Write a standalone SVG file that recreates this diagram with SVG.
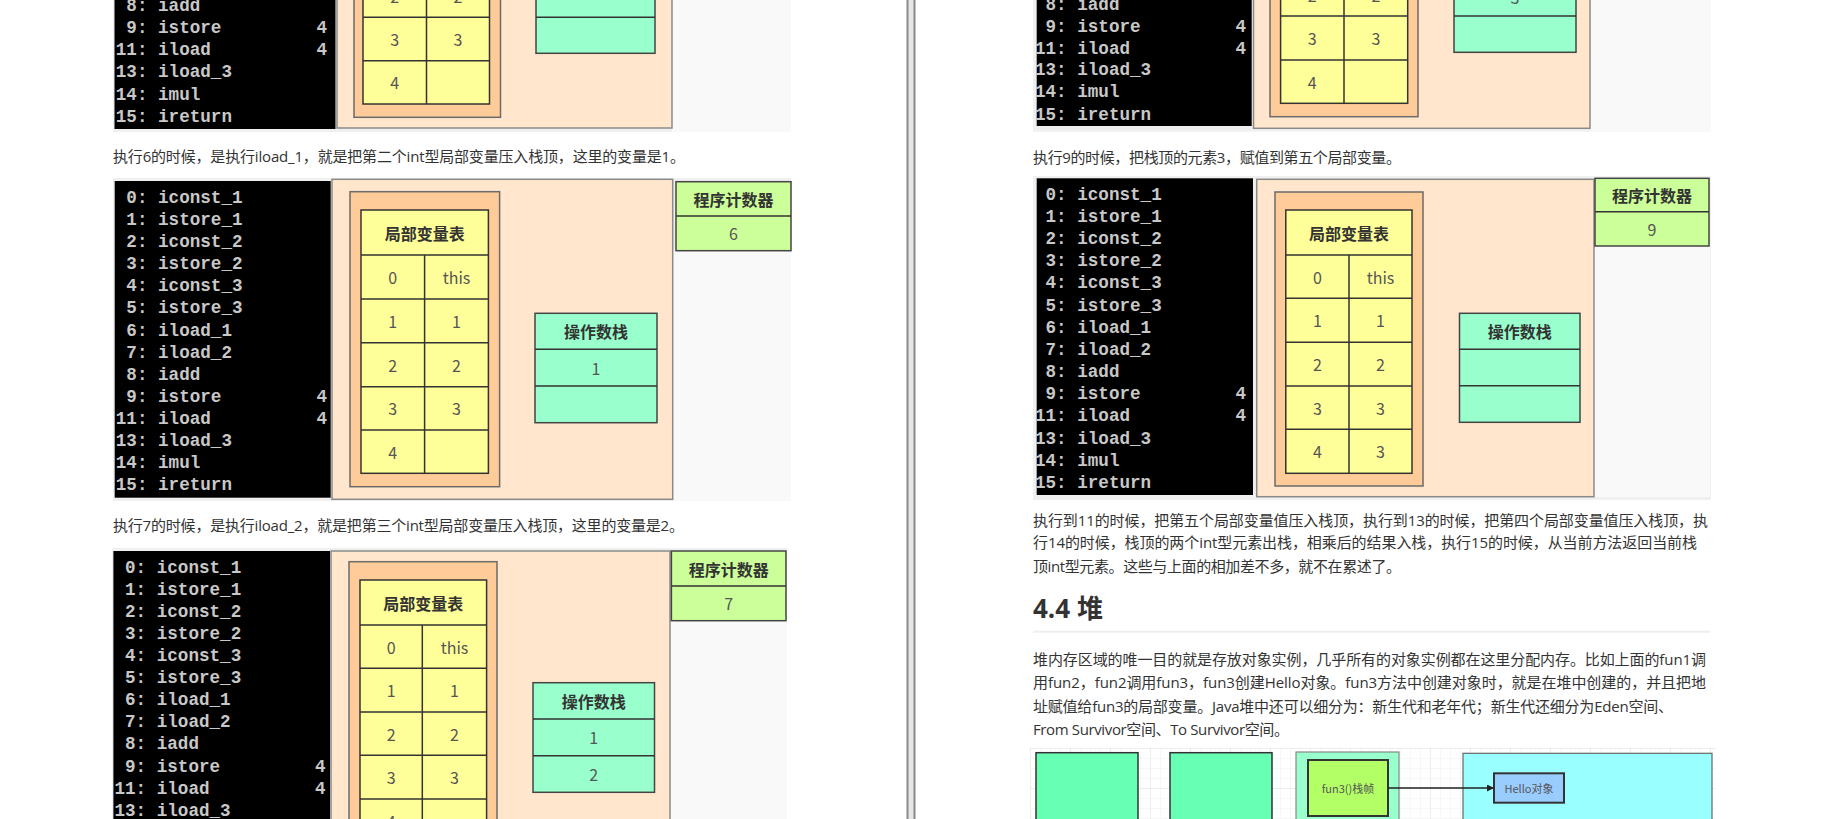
<svg xmlns="http://www.w3.org/2000/svg" width="1824" height="819" viewBox="0 0 1824 819">
<defs>
<style>
.code{font-family:"Liberation Mono",monospace;font-weight:bold;font-size:17.6px;fill:#c8c8c8;white-space:pre}
.p{font-family:"Open Sans","Noto Sans CJK SC",sans-serif;font-size:15px;fill:#333}
.cell{font-family:"Noto Sans CJK SC",sans-serif;font-size:16px;fill:#555;text-anchor:middle;dominant-baseline:central}
.hd{font-family:"Noto Sans CJK SC",sans-serif;font-size:16px;font-weight:bold;fill:#333;text-anchor:middle;dominant-baseline:central}
.frame{fill:#f0f0f0}
.light{fill:#f9f9f9}
.blk{fill:#000}
.beige{fill:#ffe6cc;stroke:#8a8a8a;stroke-width:1.5}
.orange{fill:#ffcc99;stroke:#6b6b6b;stroke-width:1.5}
.yel{fill:#ffff99;stroke:#333;stroke-width:1.5}
.ln{stroke:#333;stroke-width:1.5;fill:none}
.stk{fill:#99ffcc;stroke:#444;stroke-width:1.5}
.pc{fill:#ccff99;stroke:#444;stroke-width:1.5}
.small{font-family:"Noto Sans CJK SC",sans-serif;font-size:11px;fill:#555;text-anchor:middle;dominant-baseline:central}
</style>
<pattern id="gridMinor" width="10" height="10" patternUnits="userSpaceOnUse" x="1030" y="748">
<path d="M10 0H0V10" fill="none" stroke="#f0f0f0" stroke-width="1"/>
</pattern>
<pattern id="gridMajor" width="40" height="40" patternUnits="userSpaceOnUse" x="1030" y="748">
<path d="M40 0H0V40" fill="none" stroke="#e4e4e4" stroke-width="1"/>
</pattern>
<marker id="arr" viewBox="0 0 10 10" refX="10" refY="5" markerWidth="7" markerHeight="7" markerUnits="userSpaceOnUse" orient="auto">
<path d="M0 0L10 5L0 10z" fill="#222"/>
</marker>
</defs>
<rect x="0" y="0" width="1824" height="819" fill="#fff"/>

<!-- divider -->
<g id="divider">
<rect x="907.5" y="-2" width="7" height="823" fill="#e6e6e6" stroke="#8a8a8a" stroke-width="2"/>
</g>

<!-- Top-left partial panel -->
<g id="panel-tl">
<rect class="frame" x="113" y="-2" width="678" height="134"/>
<rect class="light" x="672" y="-2" width="119" height="134"/>
<rect class="blk" x="114.5" y="-2" width="221" height="131"/>
<rect class="beige" x="337" y="-4" width="335" height="132"/>
<rect class="orange" x="354" y="-4" width="146.5" height="121.3"/>
<rect class="yel" x="363" y="-30" width="126.5" height="134"/>
<path class="ln" d="M363 17.3H489.5M363 60.7H489.5M426.5 -30V104"/>
<text class="cell" x="394.7" y="-4">2</text><text class="cell" x="458" y="-4">2</text>
<text class="cell" x="394.7" y="39">3</text><text class="cell" x="458" y="39">3</text>
<text class="cell" x="394.7" y="82.3">4</text>
<rect class="stk" x="536" y="-30" width="119" height="83.3"/>
<path class="ln" d="M536 17.3H655" stroke="#444"/>
<text class="code" x="115.8" y="11.3"> 8: iadd</text>
<text class="code" x="115.8" y="33.3"> 9: istore</text><text class="code" x="316.4" y="33.3">4</text>
<text class="code" x="115.8" y="55.3">11: iload</text><text class="code" x="316.4" y="55.3">4</text>
<text class="code" x="115.8" y="77.3">13: iload_3</text>
<text class="code" x="115.8" y="99.6">14: imul</text>
<text class="code" x="115.8" y="122">15: ireturn</text>
</g>

<text class="p" x="113" y="161.7" textLength="572" lengthAdjust="spacing">执行6的时候，是执行iload_1，就是把第二个int型局部变量压入栈顶，这里的变量是1。</text>

<!-- Left panel 2 -->
<g id="panel-l2">
<rect class="frame" x="113" y="178" width="678" height="323"/>
<rect class="light" x="673" y="250" width="118" height="251"/>
<rect class="blk" x="114.7" y="181" width="216" height="316.7"/>
<rect class="beige" x="332" y="179.3" width="340.7" height="320"/>
<rect class="orange" x="350" y="191.7" width="149.6" height="295"/>
<g id="l2-locals">
<rect class="yel" x="361" y="210" width="127.4" height="263.3"/>
<path class="ln" d="M361 255H488.4M361 299H488.4M361 342.7H488.4M361 386.7H488.4M361 430H488.4M424.6 255V473.3"/>
<text class="hd" x="424.7" y="232.5">局部变量表</text>
<text class="cell" x="392.8" y="277">0</text><text class="cell" x="456.5" y="277">this</text>
<text class="cell" x="392.8" y="320.8">1</text><text class="cell" x="456.5" y="320.8">1</text>
<text class="cell" x="392.8" y="364.7">2</text><text class="cell" x="456.5" y="364.7">2</text>
<text class="cell" x="392.8" y="408.3">3</text><text class="cell" x="456.5" y="408.3">3</text>
<text class="cell" x="392.8" y="451.6">4</text>
</g>
<g id="l2-stack">
<rect class="stk" x="535" y="313.3" width="122" height="109.4"/>
<path class="ln" d="M535 349.3H657M535 386H657"/>
<text class="hd" x="596" y="331.3">操作数栈</text>
<text class="cell" x="596" y="367.7">1</text>
</g>
<g id="l2-pc">
<rect class="pc" x="676" y="181.7" width="115" height="69"/>
<path class="ln" d="M676 216H791"/>
<text class="hd" x="733.5" y="198.8">程序计数器</text>
<text class="cell" x="733.5" y="233.3">6</text>
</g>
<text class="code" x="115.8" y="203"> 0: iconst_1</text>
<text class="code" x="115.8" y="225.1"> 1: istore_1</text>
<text class="code" x="115.8" y="247.2"> 2: iconst_2</text>
<text class="code" x="115.8" y="269.2"> 3: istore_2</text>
<text class="code" x="115.8" y="291.3"> 4: iconst_3</text>
<text class="code" x="115.8" y="313.4"> 5: istore_3</text>
<text class="code" x="115.8" y="335.5"> 6: iload_1</text>
<text class="code" x="115.8" y="357.6"> 7: iload_2</text>
<text class="code" x="115.8" y="379.6"> 8: iadd</text>
<text class="code" x="115.8" y="401.7"> 9: istore</text><text class="code" x="316.4" y="401.7">4</text>
<text class="code" x="115.8" y="423.8">11: iload</text><text class="code" x="316.4" y="423.8">4</text>
<text class="code" x="115.8" y="445.9">13: iload_3</text>
<text class="code" x="115.8" y="468">14: imul</text>
<text class="code" x="115.8" y="490">15: ireturn</text>
</g>

<text class="p" x="113" y="530.7" textLength="571" lengthAdjust="spacing">执行7的时候，是执行iload_2，就是把第三个int型局部变量压入栈顶，这里的变量是2。</text>

<!-- Left panel 3 -->
<g id="panel-l3">
<rect class="frame" x="112" y="548" width="675" height="275"/>
<rect class="light" x="670" y="620" width="117" height="203"/>
<rect class="blk" x="113.4" y="551" width="216.6" height="272"/>
<rect class="beige" x="331" y="551" width="339" height="272"/>
<rect class="orange" x="349" y="561.7" width="148" height="270"/>
<g id="l3-locals">
<rect class="yel" x="360" y="580" width="126.6" height="262"/>
<path class="ln" d="M360 625H486.6M360 668.3H486.6M360 712H486.6M360 755.3H486.6M360 799H486.6M422.3 625V842"/>
<text class="hd" x="423.3" y="602.5">局部变量表</text>
<text class="cell" x="391.2" y="646.7">0</text><text class="cell" x="454.5" y="646.7">this</text>
<text class="cell" x="391.2" y="690.2">1</text><text class="cell" x="454.5" y="690.2">1</text>
<text class="cell" x="391.2" y="733.7">2</text><text class="cell" x="454.5" y="733.7">2</text>
<text class="cell" x="391.2" y="777.2">3</text><text class="cell" x="454.5" y="777.2">3</text>
<text class="cell" x="391.2" y="820.5">4</text>
</g>
<g id="l3-stack">
<rect class="stk" x="533" y="682.7" width="121.5" height="109.6"/>
<path class="ln" d="M533 719H654.5M533 755.7H654.5"/>
<text class="hd" x="593.75" y="700.9">操作数栈</text>
<text class="cell" x="593.75" y="737.4">1</text>
<text class="cell" x="593.75" y="774">2</text>
</g>
<g id="l3-pc">
<rect class="pc" x="671.4" y="551" width="114.6" height="69.7"/>
<path class="ln" d="M671.4 586H786"/>
<text class="hd" x="728.7" y="568.5">程序计数器</text>
<text class="cell" x="728.7" y="603.3">7</text>
</g>
<text class="code" x="114.5" y="573"> 0: iconst_1</text>
<text class="code" x="114.5" y="595"> 1: istore_1</text>
<text class="code" x="114.5" y="617.1"> 2: iconst_2</text>
<text class="code" x="114.5" y="639.2"> 3: istore_2</text>
<text class="code" x="114.5" y="661.2"> 4: iconst_3</text>
<text class="code" x="114.5" y="683.3"> 5: istore_3</text>
<text class="code" x="114.5" y="705.3"> 6: iload_1</text>
<text class="code" x="114.5" y="727.4"> 7: iload_2</text>
<text class="code" x="114.5" y="749.4"> 8: iadd</text>
<text class="code" x="114.5" y="771.5"> 9: istore</text><text class="code" x="315.1" y="771.5">4</text>
<text class="code" x="114.5" y="793.5">11: iload</text><text class="code" x="315.1" y="793.5">4</text>
<text class="code" x="114.5" y="815.6">13: iload_3</text>
</g>

<!-- Top-right partial panel -->
<g id="panel-tr">
<rect class="frame" x="1033" y="-2" width="678" height="133.7"/>
<rect class="light" x="1590" y="-2" width="121" height="133.7"/>
<rect class="blk" x="1036.7" y="-2" width="215" height="128"/>
<rect class="beige" x="1253.5" y="-4" width="336.5" height="132.3"/>
<rect class="orange" x="1270" y="-4" width="148" height="120.7"/>
<rect class="yel" x="1280.6" y="-30" width="127.1" height="133.3"/>
<path class="ln" d="M1280.6 16H1407.7M1280.6 60H1407.7M1344 -30V103.3"/>
<text class="cell" x="1312.3" y="-5">2</text><text class="cell" x="1375.9" y="-5">2</text>
<text class="cell" x="1312.3" y="38">3</text><text class="cell" x="1375.9" y="38">3</text>
<text class="cell" x="1312.3" y="81.7">4</text>
<rect class="stk" x="1454" y="-30" width="122" height="82.3"/>
<path class="ln" d="M1454 16H1576"/>
<text class="cell" x="1515" y="-3">3</text>
<text class="code" x="1035" y="10.3"> 8: iadd</text>
<text class="code" x="1035" y="32"> 9: istore</text><text class="code" x="1235.6" y="32">4</text>
<text class="code" x="1035" y="53.6">11: iload</text><text class="code" x="1235.6" y="53.6">4</text>
<text class="code" x="1035" y="75.3">13: iload_3</text>
<text class="code" x="1035" y="97">14: imul</text>
<text class="code" x="1035" y="119.6">15: ireturn</text>
</g>

<text class="p" x="1033" y="162.7" textLength="368" lengthAdjust="spacing">执行9的时候，把栈顶的元素3，赋值到第五个局部变量。</text>

<!-- Right panel 2 -->
<g id="panel-r2">
<rect class="frame" x="1033" y="176" width="678" height="324"/>
<rect class="light" x="1594" y="246" width="116" height="251"/>
<rect class="blk" x="1036.7" y="178.3" width="216.3" height="316.7"/>
<rect class="beige" x="1256.7" y="179.3" width="337.3" height="317.4"/>
<rect class="orange" x="1275" y="192" width="148" height="294"/>
<g id="r2-locals">
<rect class="yel" x="1285.8" y="210" width="126.2" height="263.3"/>
<path class="ln" d="M1285.8 255H1412M1285.8 298.3H1412M1285.8 342.3H1412M1285.8 386H1412M1285.8 429.3H1412M1349 255V473.3"/>
<text class="hd" x="1348.9" y="232.5">局部变量表</text>
<text class="cell" x="1317.4" y="276.7">0</text><text class="cell" x="1380.5" y="276.7">this</text>
<text class="cell" x="1317.4" y="320.3">1</text><text class="cell" x="1380.5" y="320.3">1</text>
<text class="cell" x="1317.4" y="364.2">2</text><text class="cell" x="1380.5" y="364.2">2</text>
<text class="cell" x="1317.4" y="407.7">3</text><text class="cell" x="1380.5" y="407.7">3</text>
<text class="cell" x="1317.4" y="451.3">4</text><text class="cell" x="1380.5" y="451.3">3</text>
</g>
<g id="r2-stack">
<rect class="stk" x="1459.5" y="313.3" width="120.5" height="109"/>
<path class="ln" d="M1459.5 349.3H1580M1459.5 385.7H1580"/>
<text class="hd" x="1519.75" y="331.3">操作数栈</text>
</g>
<g id="r2-pc">
<rect class="pc" x="1595" y="178.3" width="114" height="67.7"/>
<path class="ln" d="M1595 211.7H1709"/>
<text class="hd" x="1652" y="195">程序计数器</text>
<text class="cell" x="1652" y="228.8">9</text>
</g>
<text class="code" x="1035" y="199.6"> 0: iconst_1</text>
<text class="code" x="1035" y="221.8"> 1: istore_1</text>
<text class="code" x="1035" y="244"> 2: iconst_2</text>
<text class="code" x="1035" y="266.1"> 3: istore_2</text>
<text class="code" x="1035" y="288.3"> 4: iconst_3</text>
<text class="code" x="1035" y="310.5"> 5: istore_3</text>
<text class="code" x="1035" y="332.7"> 6: iload_1</text>
<text class="code" x="1035" y="354.9"> 7: iload_2</text>
<text class="code" x="1035" y="377"> 8: iadd</text>
<text class="code" x="1035" y="399.2"> 9: istore</text><text class="code" x="1235.6" y="399.2">4</text>
<text class="code" x="1035" y="421.4">11: iload</text><text class="code" x="1235.6" y="421.4">4</text>
<text class="code" x="1035" y="443.6">13: iload_3</text>
<text class="code" x="1035" y="465.8">14: imul</text>
<text class="code" x="1035" y="488">15: ireturn</text>
</g>

<text class="p" x="1033" y="525.7" textLength="675" lengthAdjust="spacing">执行到11的时候，把第五个局部变量值压入栈顶，执行到13的时候，把第四个局部变量值压入栈顶，执</text>
<text class="p" x="1033" y="548.4" textLength="664" lengthAdjust="spacing">行14的时候，栈顶的两个int型元素出栈，相乘后的结果入栈，执行15的时候，从当前方法返回当前栈</text>
<text class="p" x="1033" y="571.7" textLength="368" lengthAdjust="spacing">顶int型元素。这些与上面的相加差不多，就不在累述了。</text>

<text x="1033" y="618" style="font-family:'Open Sans','Noto Sans CJK SC',sans-serif;font-size:26px;font-weight:bold;fill:#333">4.4 堆</text>
<rect x="1033" y="630.7" width="677" height="2" fill="#eeeeee"/>

<text class="p" x="1033" y="665" textLength="673" lengthAdjust="spacing">堆内存区域的唯一目的就是存放对象实例，几乎所有的对象实例都在这里分配内存。比如上面的fun1调</text>
<text class="p" x="1033" y="688.4" textLength="673" lengthAdjust="spacing">用fun2，fun2调用fun3，fun3创建Hello对象。fun3方法中创建对象时，就是在堆中创建的，并且把地</text>
<text class="p" x="1033" y="711.7" textLength="640" lengthAdjust="spacing">址赋值给fun3的局部变量。Java堆中还可以细分为：新生代和老年代；新生代还细分为Eden空间、</text>
<text class="p" x="1033" y="734.7" textLength="256" lengthAdjust="spacing">From Survivor空间、To Survivor空间。</text>

<!-- Heap diagram -->
<g id="heap-grid">
<rect x="1030" y="748" width="686" height="75" fill="url(#gridMinor)"/>
<rect x="1030" y="748" width="686" height="75" fill="url(#gridMajor)"/>
</g>
<g id="box-fun1">
<rect x="1036" y="752.7" width="102" height="80" fill="#66ffb3" stroke="#333" stroke-width="1.5"/>
</g>
<g id="box-fun2">
<rect x="1170" y="752.7" width="102" height="80" fill="#66ffb3" stroke="#333" stroke-width="1.5"/>
</g>
<g id="box-fun3">
<rect x="1296" y="752" width="103" height="80" fill="#99ffcc" stroke="#888" stroke-width="1.2"/>
</g>
<g id="fun3-frame">
<rect x="1308" y="760" width="80" height="56" fill="#b3ff66" stroke="#333" stroke-width="2"/>
<text class="small" x="1348" y="788">fun3()栈帧</text>
</g>
<g id="heap">
<rect x="1463" y="753.3" width="249" height="80" fill="#99ffff" stroke="#666" stroke-width="1.2"/>
</g>
<g id="hello-obj">
<rect x="1494" y="773.3" width="70" height="29.4" fill="#99ccff" stroke="#333" stroke-width="2"/>
<text class="small" x="1529" y="788">Hello对象</text>
</g>
<g id="connectors">
<line x1="1388" y1="788" x2="1494" y2="788" stroke="#222" stroke-width="1.5" marker-end="url(#arr)"/>
</g>
</svg>
